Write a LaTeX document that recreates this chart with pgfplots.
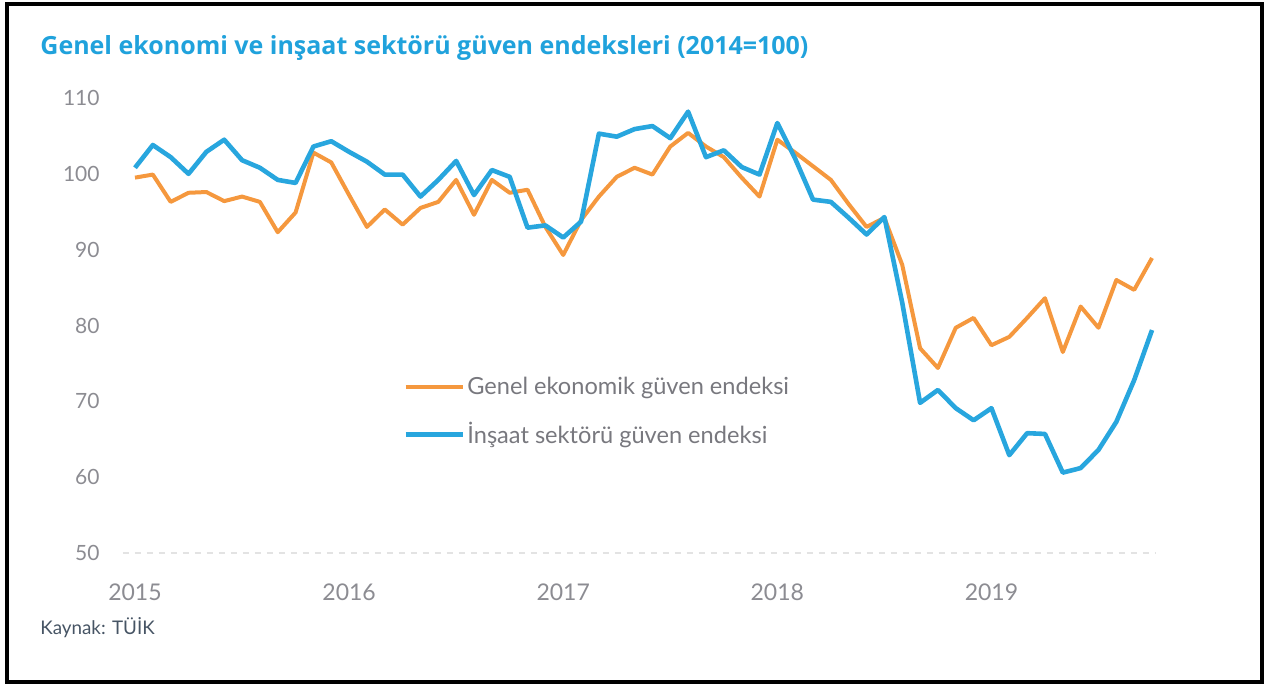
\documentclass[border=0pt]{standalone}
\usepackage{pgfplots}
\pgfplotsset{compat=1.18}
\usepackage{pgfplotstable}
\usepackage{fontspec}
\setmainfont{Lato}
\newfontfamily\titlefont{Open Sans}
\definecolor{blueline}{RGB}{40,166,222}
\definecolor{orangeline}{RGB}{245,152,62}
\definecolor{titleblue}{RGB}{32,162,220}
\definecolor{tickgray}{RGB}{140,140,146}
\definecolor{leggray}{RGB}{120,120,126}
\definecolor{srcgray}{RGB}{70,84,100}

\pgfplotstableread{
m val
0 99.5
1 99.9
2 96.3
3 97.5
4 97.6
5 96.4
6 97.0
7 96.3
8 92.3
9 94.9
10 102.8
11 101.5
12 97.2
13 93.0
14 95.3
15 93.3
16 95.5
17 96.3
18 99.2
19 94.6
20 99.2
21 97.5
22 97.9
23 93.0
24 89.3
25 93.9
26 97.0
27 99.6
28 100.8
29 99.9
30 103.6
31 105.4
32 103.6
33 102.2
34 99.5
35 97.0
36 104.5
37 102.8
38 101.0
39 99.2
40 96.0
41 93.0
42 94.2
43 88.0
44 77.0
45 74.4
46 79.7
47 81.0
48 77.4
49 78.5
50 81.0
51 83.6
52 76.5
53 82.5
54 79.7
55 86.0
56 84.7
57 88.9
}\genel

\pgfplotstableread{
m val
0 100.8
1 103.8
2 102.2
3 100.0
4 102.9
5 104.5
6 101.8
7 100.8
8 99.2
9 98.8
10 103.6
11 104.3
12 102.9
13 101.6
14 99.9
15 99.9
16 97.0
17 99.2
18 101.7
19 97.2
20 100.5
21 99.6
22 92.9
23 93.2
24 91.6
25 93.7
26 105.3
27 104.9
28 105.9
29 106.3
30 104.7
31 108.2
32 102.2
33 103.1
34 100.9
35 99.9
36 106.7
37 102.0
38 96.6
39 96.3
40 94.2
41 92.0
42 94.3
43 83.0
44 69.8
45 71.5
46 69.1
47 67.5
48 69.1
49 62.9
50 65.8
51 65.7
52 60.6
53 61.2
54 63.6
55 67.3
56 72.8
57 79.4
}\insaat

\begin{document}
\begin{tikzpicture}
\path[use as bounding box] (0pt,0pt) rectangle (632pt,342.5pt);
\draw[line width=2pt, black] (3.5pt,1.5pt) rectangle (631pt,340.5pt);
\node[anchor=base west, inner sep=0pt, text=titleblue, font=\titlefont\fontsize{12.5}{14}\selectfont\bfseries] at (20pt,315pt)
  {Genel ekonomi ve inşaat sektörü güven endeksleri (2014=100)};
\node[anchor=west, inner sep=0pt, text=srcgray, font=\fontsize{9.4}{11}\selectfont] at (20pt,28.5pt) {Kaynak: TÜİK};
\begin{axis}[
  at={(61.25pt,66pt)}, anchor=south west,
  scale only axis, width=516.55pt, height=227.5pt,
  xmin=-0.7, xmax=57.2, ymin=50, ymax=110,
  axis x line*=bottom, axis y line*=left,
  x axis line style={dashed, gray!22, line width=0.6pt},
  y axis line style={draw=none},
  xtick={0,12,24,36,48}, xticklabels={2015,2016,2017,2018,2019},
  ytick={50,60,70,80,90,100,110},
  major tick length=0pt,
  /pgf/number format/assume math mode=true,
  tick label style={text=tickgray},
  yticklabel style={anchor=east, inner sep=0pt, xshift=-11.25pt, font=\fontsize{10.5}{12}\selectfont},
  xticklabel style={anchor=north, inner sep=0pt, yshift=-15pt, font=\fontsize{11.5}{13}\selectfont},
  legend style={at={(rel axis cs:0.2715,0.393)}, anchor=north west, draw=none, fill=none,
    inner sep=0pt, row sep=10pt, font=\fontsize{11.8}{13}\selectfont, text=leggray,
    nodes={inner sep=1.2pt}},
  legend cell align=left,
  legend image code/.code={\draw[#1] (0pt,0pt) -- (28.5pt,0pt);},
  clip=false,
]
\addplot[orangeline, line width=2pt, line join=round] table[x=m, y=val] {\genel};
\addlegendentry{Genel ekonomik güven endeksi}
\addplot[blueline, line width=2.3pt, line join=round] table[x=m, y=val] {\insaat};
\addlegendentry{İnşaat sektörü güven endeksi}
\end{axis}
\end{tikzpicture}
\end{document}
